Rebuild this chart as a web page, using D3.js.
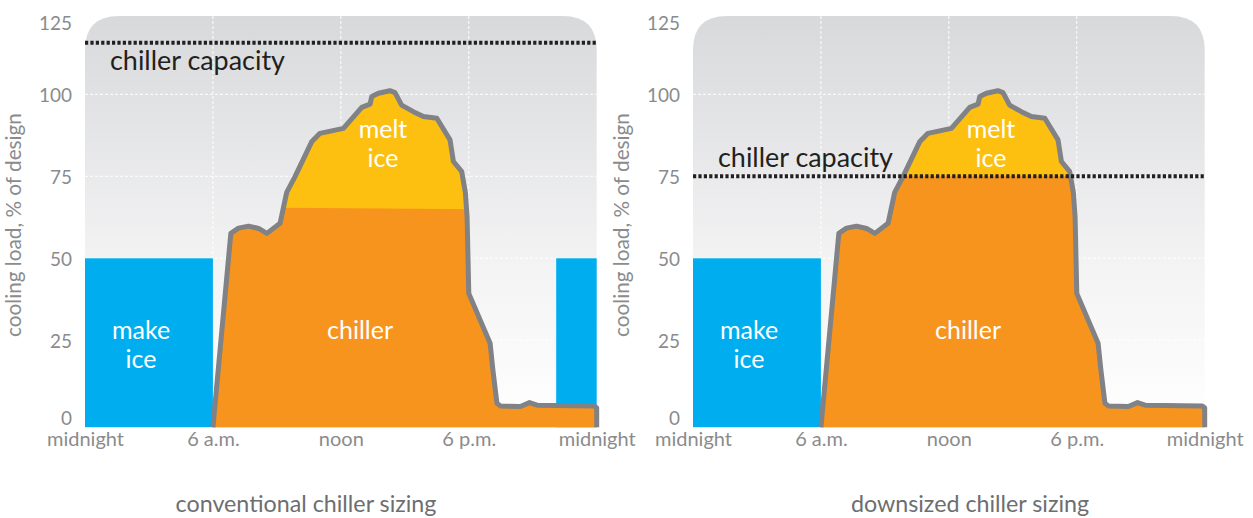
<!DOCTYPE html>
<html><head><meta charset="utf-8">
<script src="https://cdn.jsdelivr.net/npm/d3@7"></script>
<style>
body{margin:0;background:#fff}
svg{display:block}
text{font-family:Lato,"Open Sans",sans-serif}
</style>
</head><body>
<svg id="c" width="1253" height="518"></svg>
<script>
// ---------------- data ----------------
const hours = [6, 6.84, 7.2, 7.67, 8.14, 8.53, 9.15, 9.46, 9.85, 10.63, 11.02, 12.12, 12.98, 13.37, 13.45, 13.76, 14.3, 14.54, 14.85, 15.4, 15.87, 16.5, 17.12, 17.28, 17.67, 17.84, 17.92, 18.0, 19.0, 19.13, 19.32, 19.48, 20.42, 20.85, 21.2, 23.87, 24];
const load  = [0, 57.6, 59.2, 59.8, 59.1, 57.6, 60.7, 70.1, 74.9, 85.5, 88.1, 89.6, 96, 97, 99.3, 100.3, 101.1, 100.5, 96.7, 94.7, 93.2, 92.7, 86.1, 79.5, 76.4, 70.0, 62.7, 39.3, 24.1, 16, 5.8, 5.0, 4.8, 6.0, 5.2, 5.0, 4.4];

const yTicks = [0, 25, 50, 75, 100, 125];
const xTickHours = [0, 6, 12, 18, 24];
const xTickLabels = ["midnight", "6 a.m.", "noon", "6 p.m.", "midnight"];
const gridHours = [6, 12, 18];
const gridLoads = [25, 50, 75, 100];

const panelTitles = ["conventional chiller sizing", "downsized chiller sizing"];
const chillerCapacity = [115.7, 75];
const chillerLimitHours = [[9.5, 18], [0, 24]];
const chillerLimitValues = [[65.4, 65.0], [75, 75]];
const makeIceStart = [[0, 22.1], [0]];
const makeIceEnd = [[6, 24], [6]];
const makeIceLevel = 50;
const yAxisTitle = "cooling load, % of design";

// ---------------- layout ----------------
const svg = d3.select("#c");
const panelX = [85, 693];
const panelW = 511.7;
const plotTop = 16, plotBottom = 427.2;
const yFloor = -1.5;
const y = d3.scaleLinear().domain([yFloor, 125]).range([plotBottom, 12.3]);

// font size so that a sample string has the wanted width
function fitSize(sample, width, weight) {
  const t = svg.append("text").attr("font-size", 100).attr("font-weight", weight || 400).text(sample);
  const w = t.node().getComputedTextLength();
  t.remove();
  return 100 * width / w;
}
const fsTick = fitSize("125", 33);
const fsX = fitSize("midnight", 77);
const fsAxis = fitSize(yAxisTitle, 224);
const fsCap = fitSize("chiller capacity", 175);
const fsWhite = Math.min(25, fitSize("chiller", 71));
const fsTitle = fitSize(panelTitles[0], 261);

const defs = svg.append("defs");
const grad = defs.append("linearGradient").attr("id", "bg").attr("x1", 0).attr("x2", 0).attr("y1", 0).attr("y2", 1);
grad.append("stop").attr("offset", "0%").attr("stop-color", "#d8d9db");
grad.append("stop").attr("offset", "60%").attr("stop-color", "#f3f3f4");
grad.append("stop").attr("offset", "100%").attr("stop-color", "#ffffff");

const C = {blue: "#00aeef", orange: "#f7941d", yellow: "#fdc010", line: "#808285", tick: "#8a8b8d", dark: "#231f20", title: "#6d6e70"};

panelTitles.forEach((title, p) => {
  const x0 = panelX[p];
  const x = d3.scaleLinear().domain([0, 24]).range([x0, x0 + panelW]);
  const g = svg.append("g");

  // background with rounded top corners
  const r = 34, L = x(0), R = x(24), T = plotTop, B = plotBottom;
  g.append("path")
    .attr("d", `M${L},${B} V${T + r} Q${L},${T} ${L + r},${T} H${R - r} Q${R},${T} ${R},${T + r} V${B} Z`)
    .attr("fill", "url(#bg)");

  // grid
  g.selectAll(".gh").data(gridLoads).enter().append("line")
    .attr("x1", L).attr("x2", R).attr("y1", d => y(d)).attr("y2", d => y(d))
    .attr("stroke", "#fff").attr("stroke-width", 1).attr("stroke-dasharray", "3,2");
  g.selectAll(".gv").data(gridHours).enter().append("line")
    .attr("x1", d => x(d)).attr("x2", d => x(d)).attr("y1", T).attr("y2", B)
    .attr("stroke", "#fff").attr("stroke-width", 1).attr("stroke-dasharray", "3,2");

  // make ice bars
  makeIceStart[p].forEach((s, i) => {
    g.append("rect").attr("x", x(s)).attr("width", x(makeIceEnd[p][i]) - x(s))
      .attr("y", y(makeIceLevel)).attr("height", y(yFloor) - y(makeIceLevel))
      .attr("fill", C.blue);
  });

  // load curve points
  const pts = hours.map((h, i) => [h, load[i]]);
  pts[0] = [hours[0], yFloor];
  pts.push([hours[hours.length - 1], yFloor]);

  const area = d3.area().x(d => x(d[0])).y0(y(yFloor)).y1(d => y(d[1]));
  const line = d3.line().x(d => x(d[0])).y(d => y(d[1]));

  // melt ice (whole load), then chiller part clipped below limit
  g.append("path").attr("d", area(pts)).attr("fill", C.yellow);

  const lim = d3.scaleLinear().domain(chillerLimitHours[p]).range(chillerLimitValues[p]);
  const clipId = "clip" + p;
  defs.append("clipPath").attr("id", clipId).append("path")
    .attr("d", `M${x(0)},${y(lim(0))} L${x(24)},${y(lim(24))} L${x(24)},${B + 20} L${x(0)},${B + 20} Z`);
  g.append("path").attr("d", area(pts)).attr("fill", C.orange).attr("clip-path", `url(#${clipId})`);

  g.append("path").attr("d", line(pts)).attr("fill", "none")
    .attr("stroke", C.line).attr("stroke-width", 5).attr("stroke-linejoin", "round");

  // chiller capacity
  g.append("line").attr("x1", L).attr("x2", R)
    .attr("y1", y(chillerCapacity[p])).attr("y2", y(chillerCapacity[p]))
    .attr("stroke", C.dark).attr("stroke-width", 4).attr("stroke-dasharray", "3.2,2.2");
  const capLabelY = p === 0 ? y(chillerCapacity[p]) + 27 : y(chillerCapacity[p]) - 9;
  g.append("text").attr("x", L + 25).attr("y", capLabelY)
    .attr("font-size", fsCap).attr("fill", C.dark).text("chiller capacity");

  // white labels
  const wl = (tx, ty, s) => g.append("text").attr("x", tx).attr("y", ty).attr("text-anchor", "middle")
    .attr("font-size", fsWhite).attr("fill", "#fff").text(s);
  wl(L + 56, 339, "make"); wl(L + 56, 368, "ice");
  wl(L + 275, 339, "chiller");
  wl(L + 298, 138, "melt"); wl(L + 298, 167, "ice");

  // axes
  const ya = g.append("g").attr("transform", `translate(${L},0)`)
    .call(d3.axisLeft(y).tickValues(yTicks).tickSize(0).tickPadding(13));
  ya.select(".domain").remove();
  ya.selectAll("text").attr("font-size", fsTick).attr("fill", C.tick).attr("dy", "0.4em")
    .style("font-family", 'Lato,"Open Sans",sans-serif');
  ya.selectAll(".tick").attr("transform", d => `translate(0,${Math.max(y(d) - (d === 0 ? 5 : 0), plotTop + 6)})`);

  const xa = g.append("g").attr("transform", `translate(0,${B})`)
    .call(d3.axisBottom(x).tickValues(xTickHours).tickFormat((d, i) => xTickLabels[i]).tickSize(0).tickPadding(5));
  xa.select(".domain").remove();
  xa.selectAll("text").attr("font-size", fsX).attr("fill", C.tick)
    .style("font-family", 'Lato,"Open Sans",sans-serif');

  // axis title
  g.append("text").attr("transform", `translate(${L - 64},225) rotate(-90)`)
    .attr("text-anchor", "middle").attr("font-size", fsAxis).attr("fill", C.tick).text(yAxisTitle);

  // panel title
  g.append("text").attr("x", L + (p === 0 ? 221 : 277)).attr("y", 512)
    .attr("text-anchor", "middle").attr("font-size", fsTitle).attr("fill", C.title).text(title);
});
</script>
</body></html>
